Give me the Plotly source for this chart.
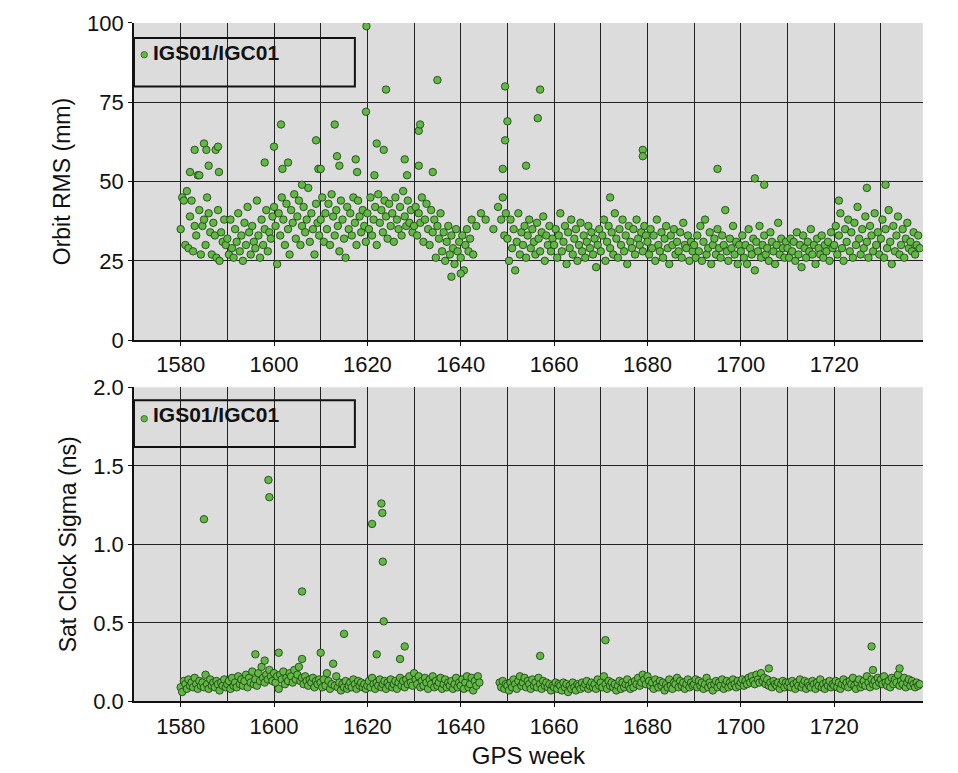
import numpy as np
import plotly.graph_objects as go
from plotly.subplots import make_subplots

# daily-ish solutions, 3 per GPS week starting at week 1580
week_start = 1580
per_week = 3

orbit_rms = [
    35,45,44,30,47,29,39,44,28,36,33,52,41,27,36,38,30,45,40,34,27,37,33,26,41,25,34,31,38,30,
    32,27,38,29,26,35,31,40,28,33,25,37,30,42,34,27,36,31,29,44,33,26,38,30,35,41,28,34,32,39,
    42,36,24,40,33,45,38,30,43,35,27,41,37,46,32,39,44,30,36,42,34,38,48,31,40,35,27,43,37,33,
    38,45,31,40,35,43,30,46,39,33,41,36,28,44,38,32,26,42,35,40,33,45,37,30,44,39,34,41,36,31,
    40,35,45,33,38,42,30,46,37,41,34,44,39,32,43,36,40,31,45,38,35,42,33,47,39,36,44,37,41,34,
    36,42,33,40,37,45,31,38,43,35,30,41,34,38,26,36,32,40,28,34,25,31,36,27,33,29,24,35,28,31,
    26,33,22,30,35,28,32,38,27,None,36,None,None,40,None,None,38,None,None,None,None,35,None,None,42,None,38,45,33,40,
    32,25,38,29,35,22,31,40,27,34,30,36,26,33,38,29,35,31,27,37,32,28,34,39,25,33,30,36,28,32,
    30,35,26,33,40,28,31,36,24,34,29,38,27,32,35,25,30,37,28,33,26,31,36,29,34,27,32,23,30,35,
    28,33,38,25,31,36,29,34,27,40,32,26,35,30,38,28,33,24,36,31,29,35,27,38,32,30,34,28,36,33,
    31,27,35,29,33,25,38,30,28,34,26,32,36,29,24,33,30,35,27,31,28,34,26,37,30,29,33,25,31,28,
    30,26,33,28,36,25,31,38,27,29,34,24,30,32,27,35,29,26,33,30,41,28,25,32,29,36,27,31,24,30,
    28,33,26,30,24,35,29,27,32,22,31,28,36,26,30,33,27,29,25,34,31,28,24,30,37,27,32,29,26,31,
    29,26,32,28,31,25,34,27,30,23,33,29,26,31,28,35,27,30,24,32,29,27,33,26,30,28,31,25,34,29,
    30,36,27,33,40,29,25,35,31,38,28,34,26,37,30,42,32,27,35,29,39,31,26,36,33,28,40,30,34,27,
    32,38,26,35,29,41,31,24,36,28,33,39,27,30,35,26,32,37,29,31,28,34,27,30,33,29,
]
orbit_out_week = [1582,1583,1584,1585,1585.5,1586,1587.5,1588,1588.2,1598,1600,1601.5,1601.8,1603,
                  1606,1609,1609.5,1610,1613,1613.5,1614,1617.5,1617.8,1619.8,1619.7,1621.5,1622,
                  1623.5,1624,1628,1628.5,1631,1631.3,1631,1634,1635,1649.5,1649.5,1649,1650,1654,
                  1656.5,1657,1679,1679,1672,1695,1703,1705,1727,1731,1721,1638,1640]
orbit_out_rms = [53,60,52,62,60,55,60,61,53,56,61,68,54,56,49,63,54,54,68,58,55,57,53,99,72,52,62,
                 60,79,57,52,66,68,55,53,82,80,63,54,69,55,70,79,60,58,45,54,51,49,48,49,44,20,21]

clock_sigma = [
    0.09,0.06,0.13,0.11,0.08,0.14,0.10,0.12,0.09,0.15,0.11,0.08,0.13,0.10,0.12,0.09,0.17,0.11,0.08,0.14,0.10,0.12,0.09,0.13,0.11,0.07,0.12,0.10,0.14,0.09,
    0.11,0.13,0.08,0.15,0.10,0.12,0.09,0.16,0.11,0.14,0.10,0.13,0.17,0.09,0.15,0.12,0.19,0.11,0.14,0.10,0.18,0.13,0.22,0.15,0.12,0.17,0.14,0.20,0.16,0.13,
    0.18,0.12,0.16,0.08,0.17,0.14,0.19,0.11,0.15,0.13,0.18,0.16,0.12,0.20,0.14,0.17,0.22,0.13,0.15,0.11,0.16,0.13,0.10,0.14,0.12,0.15,0.09,0.13,0.11,0.14,
    0.12,0.09,0.14,0.10,0.18,0.13,0.08,0.11,0.24,0.10,0.16,0.09,0.12,0.07,0.11,0.09,0.13,0.08,0.10,0.12,0.09,0.14,0.11,0.08,0.13,0.10,0.12,0.09,0.11,0.08,
    0.10,0.13,0.09,0.15,0.11,0.08,0.12,0.10,0.14,0.09,0.11,0.13,0.08,0.12,0.10,0.14,0.09,0.11,0.13,0.08,0.12,0.15,0.10,0.13,0.09,0.14,0.11,0.16,0.12,0.10,
    0.18,0.14,0.11,0.16,0.09,0.13,0.10,0.15,0.12,0.08,0.14,0.11,0.16,0.09,0.13,0.10,0.12,0.15,0.08,0.11,0.14,0.09,0.12,0.10,0.13,0.08,0.11,0.15,0.09,0.12,
    0.10,0.14,0.08,0.12,0.16,0.09,0.11,0.15,0.07,0.13,0.10,0.16,0.12,None,None,None,None,None,None,None,None,None,None,None,None,0.12,0.09,0.13,0.08,0.11,
    0.10,0.07,0.12,0.09,0.14,0.11,0.08,0.13,0.16,0.10,0.12,0.15,0.09,0.13,0.11,0.08,0.14,0.10,0.12,0.09,0.15,0.11,0.08,0.13,0.10,0.12,0.09,0.11,0.07,0.10,
    0.09,0.12,0.08,0.11,0.10,0.07,0.12,0.09,0.11,0.06,0.10,0.08,0.12,0.09,0.07,0.11,0.10,0.08,0.12,0.09,0.11,0.13,0.08,0.10,0.12,0.09,0.11,0.08,0.14,0.10,
    0.12,0.09,0.16,0.11,0.08,0.13,0.10,0.12,0.09,0.11,0.07,0.10,0.13,0.08,0.12,0.09,0.11,0.14,0.10,0.08,0.12,0.09,0.13,0.11,0.15,0.10,0.12,0.17,0.14,0.11,
    0.16,0.13,0.10,0.12,0.08,0.14,0.11,0.09,0.13,0.10,0.12,0.07,0.11,0.09,0.14,0.10,0.08,0.12,0.11,0.15,0.09,0.13,0.10,0.12,0.08,0.11,0.14,0.09,0.12,0.10,
    0.11,0.14,0.09,0.13,0.10,0.12,0.08,0.11,0.15,0.09,0.12,0.10,0.07,0.11,0.13,0.09,0.12,0.10,0.14,0.08,0.11,0.13,0.09,0.12,0.10,0.14,0.11,0.09,0.13,0.10,
    0.12,0.14,0.10,0.13,0.11,0.15,0.12,0.16,0.13,0.11,0.17,0.14,0.12,0.18,0.13,0.15,0.11,0.14,0.10,0.12,0.09,0.13,0.11,0.10,0.12,0.08,0.11,0.13,0.09,0.12,
    0.10,0.12,0.09,0.13,0.11,0.08,0.12,0.10,0.14,0.09,0.11,0.13,0.08,0.12,0.10,0.09,0.13,0.11,0.08,0.12,0.10,0.14,0.09,0.11,0.08,0.12,0.10,0.13,0.09,0.11,
    0.10,0.13,0.09,0.12,0.08,0.11,0.14,0.10,0.12,0.09,0.13,0.11,0.15,0.10,0.08,0.12,0.14,0.09,0.11,0.13,0.10,0.16,0.12,0.09,0.14,0.11,0.13,0.10,0.15,0.12,
    0.14,0.11,0.16,0.12,0.10,0.13,0.09,0.15,0.11,0.14,0.12,0.17,0.10,0.13,0.11,0.15,0.09,0.12,0.14,0.10,0.13,0.11,0.09,0.12,0.10,0.11,
]
clock_out_week = [1585,1598.8,1599,1606,1610,1615,1621,1623,1623.2,1623.3,1623.5,1628,1627,1596,1598,
                  1601,1606,1622,1657,1671,1728,1728.3,1706,1734]
clock_out_sigma = [1.16,1.41,1.30,0.70,0.31,0.43,1.13,1.26,1.20,0.89,0.51,0.35,0.27,0.30,0.26,
                   0.31,0.27,0.30,0.29,0.39,0.35,0.20,0.21,0.21]

label = "IGS01/IGC01"
week_orbit = week_start + np.arange(len(orbit_rms)) / per_week
week_clock = week_start + np.arange(len(clock_sigma)) / per_week

marker = dict(color="#62b845", size=7.5, line=dict(color="#1a3a10", width=0.8))
small_marker = dict(color="#62b845", size=6.5, line=dict(color="#1a3a10", width=0.6))
font = "Liberation Sans, Arial, sans-serif"

fig = make_subplots(rows=2, cols=1)
fig.add_trace(go.Scatter(x=week_orbit, y=orbit_rms, mode="markers", marker=marker), 1, 1)
fig.add_trace(go.Scatter(x=orbit_out_week, y=orbit_out_rms, mode="markers", marker=marker), 1, 1)
fig.add_trace(go.Scatter(x=week_clock, y=clock_sigma, mode="markers", marker=marker), 2, 1)
fig.add_trace(go.Scatter(x=clock_out_week, y=clock_out_sigma, mode="markers", marker=marker), 2, 1)
# legend markers
fig.add_trace(go.Scatter(x=[1572.2], y=[90], mode="markers", marker=small_marker), 1, 1)
fig.add_trace(go.Scatter(x=[1572.2], y=[1.80], mode="markers", marker=small_marker), 2, 1)

fig.update_xaxes(range=[1570, 1739], showgrid=True, gridcolor="#222", gridwidth=1,
                 showline=True, linecolor="#111", linewidth=1.5, tickvals=list(range(1580, 1740, 20)),
                 ticks="outside", ticklen=4, tickcolor="#111",
                 tickfont=dict(size=22, color="#111"), zeroline=False, domain=[0.1315, 0.955],
                 minor=dict(dtick=10, tick0=1570, showgrid=True, gridcolor="#222", gridwidth=1))
fig.update_xaxes(row=2, col=1, title=dict(text="GPS week", font=dict(size=24, color="#111"), standoff=10))

yax = dict(showgrid=True, gridcolor="#222", gridwidth=1, showline=True, linecolor="#111", linewidth=1.5,
           ticks="outside", ticklen=4, tickcolor="#111", tickfont=dict(size=22, color="#111"), zeroline=False)
fig.update_yaxes(row=1, col=1, range=[0, 100], dtick=25, domain=[0.572, 0.996],
                 title=dict(text="Orbit RMS (mm)", font=dict(size=23, color="#111"), standoff=10), **yax)
fig.update_yaxes(row=2, col=1, range=[0, 2.0], dtick=0.5, tickformat=".1f", domain=[0.089, 0.509],
                 title=dict(text="Sat Clock Sigma (ns)", font=dict(size=23, color="#111"), standoff=10), **yax)

for xr, yr, y0, y1 in [("x domain", "y domain", 0.80, 0.953), ("x2 domain", "y2 domain", 0.81, 0.959)]:
    fig.add_shape(type="rect", xref=xr, yref=yr, x0=0.0, x1=0.28, y0=y0, y1=y1,
                  line=dict(color="#111", width=2), fillcolor="rgba(0,0,0,0)")
    fig.add_annotation(xref=xr, yref=yr, x=0.022, y=(y0 + y1) / 2 + 0.072, text="<b>" + label + "</b>",
                       showarrow=False, xanchor="left", font=dict(size=21, color="#111", family=font))

fig.update_layout(width=958, height=773, margin=dict(l=0, r=0, t=0, b=0), showlegend=False,
                  plot_bgcolor="#dcdcdc", paper_bgcolor="white", font=dict(family=font))
fig.write_html("out.html")
